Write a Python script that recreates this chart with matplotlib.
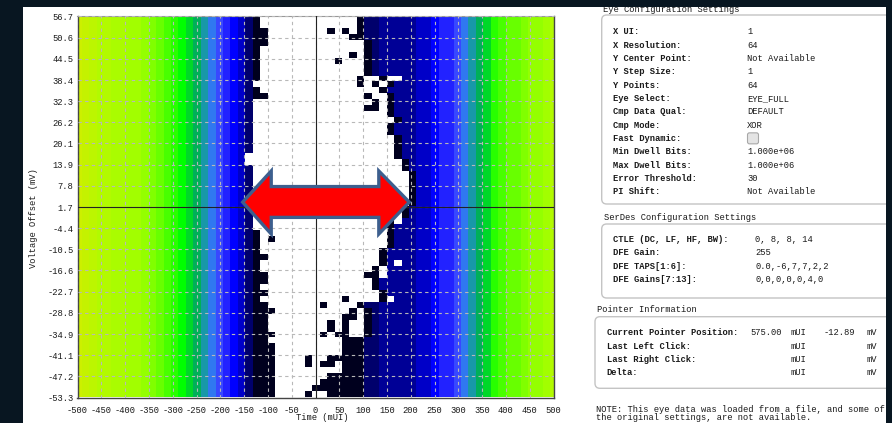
import numpy as np
import matplotlib
matplotlib.use('Agg')
import matplotlib.pyplot as plt
from matplotlib.colors import ListedColormap, BoundaryNorm
from matplotlib.patches import Polygon, FancyBboxPatch, Rectangle

# ---------------- data ----------------
x_ticks = list(range(-500, 501, 50))
y_tick_labels = ['56.7', '50.6', '44.5', '38.4', '32.3', '26.2', '20.1', '13.9', '7.8', '1.7',
                 '-4.4', '-10.5', '-16.6', '-22.7', '-28.8', '-34.9', '-41.1', '-47.2', '-53.3']
y_top, y_bottom = 56.7, -53.3
n_cols, n_rows = 65, 64          # 65 time samples (-500..500 mUI), 64 voltage steps

# error level per column outside the open eye (0 = no error ... 23 = highest)
col_level = [23, 22, 21, 20, 20, 19, 19, 18, 18, 17, 16, 15, 14, 13, 12, 11, 10, 9, 8, 7,
             6, 5, 4, 2, 1,
             1, 1, 1, 1, 1, 1, 1, 1, 1, 1, 1, 1, 1,
             1, 2, 2, 3, 3, 3, 3, 3, 4, 4, 5, 6, 6, 7, 8, 9, 10, 11, 13, 14, 15, 15,
             16, 17, 17, 18, 20]

# first / last error-free column of each row (row 0 = top)
eye_left = [25, 25, 26, 26, 26, 25, 25, 25, 25, 25, 25, 24, 25, 26, 24, 24, 24, 24, 24, 24,
            24, 24, 24, 23, 23, 24, 24, 24, 24, 24, 24, 24, 24, 24, 24, 24, 25, 25, 25, 25,
            26, 25, 25, 26, 26, 25, 26, 25, 26, 27, 26, 26, 26, 27, 26, 27, 27, 27, 27, 27,
            27, 27, 27, 27]
eye_right = [37, 37, 37, 36, 38, 38, 38, 38, 38, 38, 42, 41, 40, 41, 41, 41, 41, 42, 41, 41,
             42, 42, 42, 42, 43, 43, 44, 44, 44, 44, 44, 44, 43, 43, 41, 41, 41, 41, 41, 40,
             40, 40, 39, 39, 39, 39, 40, 40, 37, 38, 38, 38, 38, 38, 35, 35, 35, 33, 35, 35,
             33, 32, 31, 33]

# isolated error cells inside the eye (row, col)
error_cells = [(2, 34), (2, 36), (6, 37), (7, 35), (10, 38), (10, 41), (11, 38), (11, 40),
               (13, 39), (14, 40), (15, 39), (15, 40), (37, 26), (43, 39), (47, 36), (48, 33),
               (49, 37), (50, 36), (50, 37), (51, 34), (51, 36), (52, 34), (52, 36), (53, 33),
               (53, 35), (53, 36), (57, 31), (58, 31), (58, 33), (58, 34), (63, 31)]
# isolated error-free cells outside the eye (row, col)
clean_cells = [(10, 43), (34, 43), (41, 43), (42, 41), (43, 41), (47, 42)]

palette = ['#ffffff', '#00001e', '#00006c', '#000096', '#0000c8', '#0000ff', '#2222ff',
           '#3848ff', '#3078f0', '#1898a8', '#00b058', '#00d828', '#00ff00', '#28ff00',
           '#48ff00', '#68ff00', '#80ff00', '#94ff00', '#a2fe00', '#aafc00', '#b2fa00',
           '#bcf600', '#c4f200', '#ccf000']

# ---------------- build grid ----------------
grid = np.tile(np.array(col_level, dtype=float), (n_rows, 1))
for r in range(n_rows):
    grid[r, eye_left[r]:eye_right[r] + 1] = 0
    if eye_right[r] + 1 < n_cols:
        grid[r, eye_right[r] + 1] = min(grid[r, eye_right[r] + 1], 1)
for r, c in error_cells:
    grid[r, c] = 1
for r, c in clean_cells:
    grid[r, c] = 0

cmap = ListedColormap(palette)
norm = BoundaryNorm(np.arange(-0.5, len(palette) + 0.5), cmap.N)

# ---------------- figure ----------------
W, H = 892, 423
dark = '#081621'
fig = plt.figure(figsize=(W / 100, H / 100), dpi=100)
fig.patch.set_facecolor(dark)

bg = fig.add_axes([0, 0, 1, 1], zorder=0)
bg.set_xlim(0, W)
bg.set_ylim(H, 0)
bg.axis('off')
bg.add_patch(Rectangle((23, 7), 863, H, facecolor='white', edgecolor='none', zorder=0))

mono = 'Liberation Mono'
fs = 6.3
tc = '#1a1a1a'

# main plot axes
ax = fig.add_axes([77.5 / W, (H - 397.5) / H, 476 / W, 381 / H], zorder=2)
step = 1000 / (n_cols - 1)
ax.imshow(grid, cmap=cmap, norm=norm, aspect='auto', interpolation='nearest',
          extent=[-500 - step / 2, 500 + step / 2, y_bottom, y_top], origin='upper', zorder=1)
ax.set_xlim(-500, 500)
ax.set_ylim(y_bottom, y_top)
yt = np.linspace(y_top, y_bottom, len(y_tick_labels))
ax.set_yticks(yt)
ax.set_yticklabels(y_tick_labels)
ax.set_xticks(x_ticks)
ax.set_xticklabels([str(v) for v in x_ticks])
ax.tick_params(length=0, labelsize=fs, colors=tc, pad=3)
for lab in ax.get_xticklabels() + ax.get_yticklabels():
    lab.set_fontfamily(mono)
ax.tick_params(axis='x', pad=6)
ax.grid(True, color='#b8b8b8', linestyle=(0, (3, 3)), linewidth=0.8, zorder=2)
ax.set_axisbelow(False)
for s in ['left', 'bottom', 'right']:
    ax.spines[s].set_color('#444444')
    ax.spines[s].set_linewidth(1.0)
ax.spines['top'].set_color('#999999')
ax.spines['top'].set_linestyle((0, (2, 1)))

# crosshair lines
ax.axhline(1.7, color='#222222', linewidth=0.8, zorder=3)
ax.axvline(0, color='#222222', linewidth=0.8, zorder=3)

# red double arrow annotation
tipL, backL, backR, tipR = -153, -93, 133, 197
yc, head_top, head_bot, sh_top, sh_bot = 3.1, 12.1, -6.1, 7.6, -1.3
arrow = Polygon([(tipL, yc), (backL, head_top), (backL, sh_top), (backR, sh_top),
                 (backR, head_top), (tipR, yc), (backR, head_bot), (backR, sh_bot),
                 (backL, sh_bot), (backL, head_bot)], closed=True,
                facecolor='#ff0000', edgecolor='#3d5f8e', linewidth=2.4, zorder=5,
                joinstyle='miter')
ax.add_patch(arrow)

# axis labels
bg.text(33.5, 218, 'Voltage Offset (mV)', rotation=90, ha='center', va='center',
        fontsize=fs, family=mono, color=tc)
bg.text(322, 422.5, 'Time (mUI)', ha='center', va='bottom', fontsize=fs, family=mono,
        color=tc)

# ---------------- right-hand panel ----------------
box_kw = dict(boxstyle='round,pad=0,rounding_size=5', facecolor='white',
              edgecolor='#c4c4c4', linewidth=1.0, zorder=1)
bg.add_patch(FancyBboxPatch((601.7, 15), 300, 189, **box_kw))
bg.add_patch(FancyBboxPatch((601.7, 224), 300, 74, **box_kw))
bg.add_patch(FancyBboxPatch((595, 316.7), 300, 71.6, **box_kw))

bg.text(603, 9.3, 'Eye Configuration Settings', fontsize=fs, family=mono, color=tc,
        va='center', zorder=2)
eye_labels = ['X UI:', 'X Resolution:', 'Y Center Point:', 'Y Step Size:', 'Y Points:',
              'Eye Select:', 'Cmp Data Qual:', 'Cmp Mode:', 'Fast Dynamic:',
              'Min Dwell Bits:', 'Max Dwell Bits:', 'Error Threshold:', 'PI Shift:']
eye_values = ['1', '64', 'Not Available', '1', '64', 'EYE_FULL', 'DEFAULT', 'XOR', '',
              '1.000e+06', '1.000e+06', '30', 'Not Available']
for i, (lab, val) in enumerate(zip(eye_labels, eye_values)):
    y = 31.7 + 13.33 * i
    bg.text(613.3, y, lab, fontsize=fs, family=mono, weight='bold', color=tc, va='center', zorder=2)
    if val:
        bg.text(747, y, val, fontsize=fs, family=mono, color=tc, va='center', zorder=2)
    else:
        bg.add_patch(FancyBboxPatch((747.5, y - 5.5), 11, 11,
                                    boxstyle='round,pad=0,rounding_size=2',
                                    facecolor='#e4e4e4', edgecolor='#a8a8a8', linewidth=0.8,
                                    zorder=2))

bg.text(604, 217.3, 'SerDes Configuration Settings', fontsize=fs, family=mono, color=tc,
        va='center', zorder=2)
serdes_labels = ['CTLE (DC, LF, HF, BW):', 'DFE Gain:', 'DFE TAPS[1:6]:', 'DFE Gains[7:13]:']
serdes_values = ['0, 8, 8, 14', '255', '0.0,-6,7,7,2,2', '0,0,0,0,0,4,0']
for i, (lab, val) in enumerate(zip(serdes_labels, serdes_values)):
    y = 239.3 + 13.55 * i
    bg.text(613.3, y, lab, fontsize=fs, family=mono, weight='bold', color=tc, va='center', zorder=2)
    bg.text(755, y, val, fontsize=fs, family=mono, color=tc, va='center', zorder=2)

bg.text(597, 310, 'Pointer Information', fontsize=fs, family=mono, color=tc,
        va='center', zorder=2)
ptr_labels = ['Current Pointer Position:', 'Last Left Click:', 'Last Right Click:', 'Delta:']
ptr_x = ['575.00', '', '', '']
ptr_y = ['-12.89', '', '', '']
for i, lab in enumerate(ptr_labels):
    y = 332.7 + 13.33 * i
    bg.text(606.7, y, lab, fontsize=fs, family=mono, weight='bold', color=tc, va='center', zorder=2)
    if ptr_x[i]:
        bg.text(750, y, ptr_x[i], fontsize=fs, family=mono, color=tc, va='center', zorder=2)
    bg.text(791, y, 'mUI', fontsize=fs, family=mono, color=tc, va='center', zorder=2)
    if ptr_y[i]:
        bg.text(823.3, y, ptr_y[i], fontsize=fs, family=mono, color=tc, va='center', zorder=2)
    bg.text(866.7, y, 'mV', fontsize=fs, family=mono, color=tc, va='center', zorder=2)

bg.text(596, 410, 'NOTE: This eye data was loaded from a file, and some of',
        fontsize=fs, family=mono, color=tc, va='center', zorder=2)
bg.text(596, 422.5, 'the original settings, are not available.',
        fontsize=fs, family=mono, color=tc, va='bottom', zorder=2)

# dark frame on top (clips panel edges)
bg.add_patch(Rectangle((0, 0), W, 7, facecolor=dark, edgecolor='none', zorder=10))
bg.add_patch(Rectangle((0, 0), 23, H, facecolor=dark, edgecolor='none', zorder=10))
bg.add_patch(Rectangle((886, 0), 10, H, facecolor=dark, edgecolor='none', zorder=10))

fig.savefig('out.png', dpi=100, facecolor=fig.get_facecolor())
